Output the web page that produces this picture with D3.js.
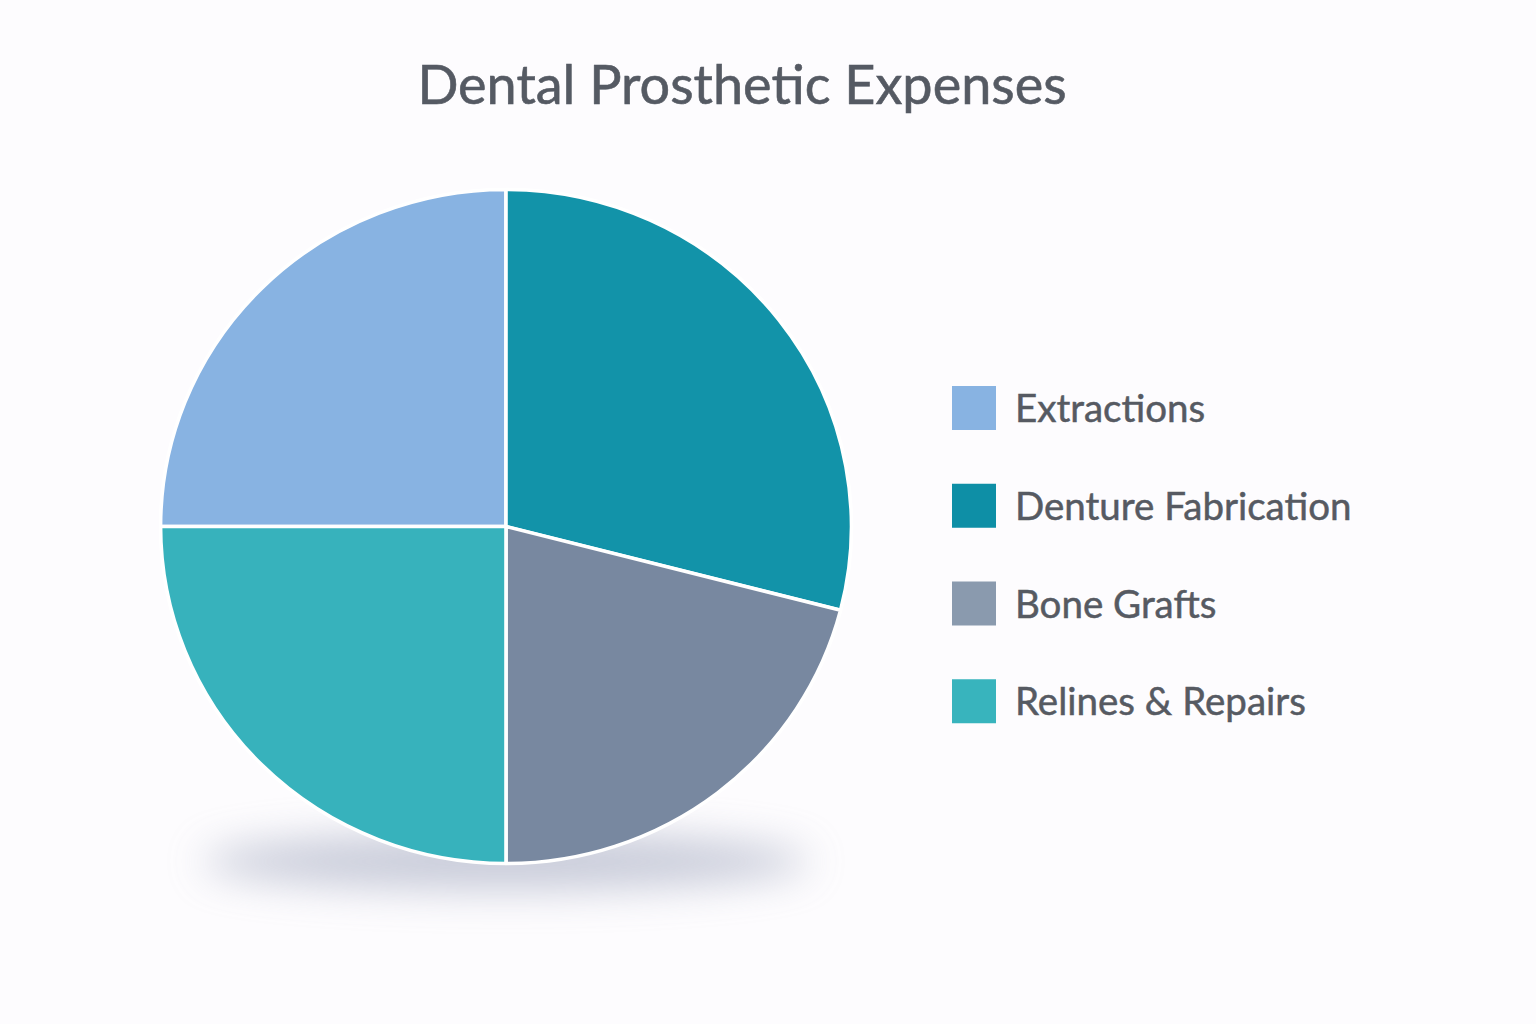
<!DOCTYPE html>
<html><head><meta charset="utf-8">
<script src="https://cdn.jsdelivr.net/npm/d3@7"></script>
<style>
html,body{margin:0;padding:0;background:#fdfcfe;}
svg{display:block;}
</style></head>
<body>
<svg id="chart" width="1536" height="1024"></svg>
<script>
const title = "Dental Prosthetic Expenses";
const categories = ["Extractions", "Denture Fabrication", "Bone Grafts", "Relines & Repairs"];
const values = [25, 29, 21, 25];
const sliceColors = ["#88b3e2", "#1293a9", "#7888a0", "#37b2bc"];
const legendColors = ["#88b3e2", "#0e8fa6", "#8a9aae", "#38b4bd"];

const svg = d3.select("#chart");
const cx = 506, cy = 526.5, R = 337, sx = 1.025;
const font = "Lato, 'Open Sans', sans-serif";

const defs = svg.append("defs");
const blur = defs.append("filter").attr("id","shadowBlur").attr("x","-50%").attr("y","-200%").attr("width","200%").attr("height","500%");
blur.append("feGaussianBlur").attr("stdDeviation", 20);

svg.append("ellipse")
  .attr("cx", cx).attr("cy", cy + R - 2)
  .attr("rx", R * 0.9).attr("ry", 28)
  .attr("fill", "#a3a9bf").attr("opacity", 0.6)
  .attr("filter", "url(#shadowBlur)");

svg.append("text")
  .attr("x", 742).attr("y", 104)
  .attr("text-anchor", "middle")
  .attr("font-family", font).attr("font-size", 54)
  .attr("fill", "#555a63")
  .attr("stroke", "#555a63").attr("stroke-width", 0.6)
  .text(title);

const pie = d3.pie().sort(null).value(d => d)
  .startAngle(-Math.PI / 2).endAngle(3 * Math.PI / 2);
const arc = d3.arc().innerRadius(0).outerRadius(R);

svg.append("g").attr("transform", `translate(${cx},${cy}) scale(${sx},1)`)
  .selectAll("path").data(pie(values)).join("path")
  .attr("d", arc)
  .attr("fill", (d, i) => sliceColors[i])
  .attr("stroke", "#ffffff").attr("stroke-width", 3.5)
  .attr("stroke-linejoin", "round");

const legendY = d3.scaleBand().domain(categories).range([386, 777]).paddingInner(0);
const lg = svg.append("g");
const items = lg.selectAll("g").data(categories).join("g")
  .attr("transform", d => `translate(952,${legendY(d)})`);
items.append("rect").attr("width", 44).attr("height", 44)
  .attr("fill", (d, i) => legendColors[i]);
items.append("text").attr("x", 63).attr("y", 36)
  .attr("font-family", font).attr("font-size", 38.5)
  .attr("fill", "#565a62")
  .attr("stroke", "#565a62").attr("stroke-width", 0.5)
  .text(d => d);
</script>
</body></html>
